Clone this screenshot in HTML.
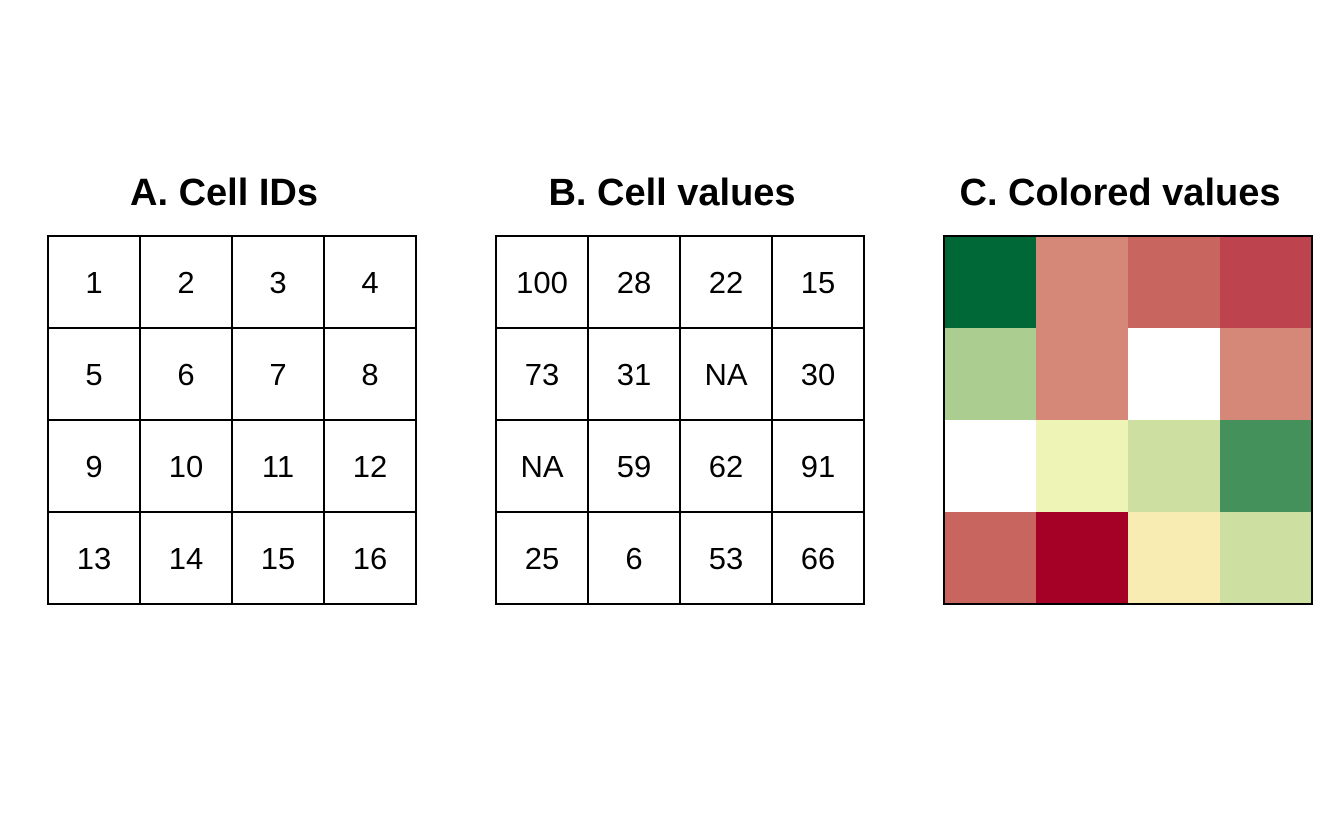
<!DOCTYPE html>
<html><head><meta charset="utf-8"><style>
html,body{margin:0;padding:0;background:#fff;}
svg{display:block;font-family:"Liberation Sans",sans-serif;}
</style></head><body>
<svg id="chart" width="1344" height="830"></svg>
<script>
const ids = [1,2,3,4,5,6,7,8,9,10,11,12,13,14,15,16];
const values = [100,28,22,15,73,31,null,30,null,59,62,91,25,6,53,66];
const titles = ["A. Cell IDs","B. Cell values","C. Colored values"];
const breaks = [12,20,27,45,57,61,70,80,95];
const palette = ["#a50026","#bd434f","#c8655f","#d68878","#f8ecb2","#eef4b6","#cde0a2","#abcd90","#44915c","#006837"];
function colorFor(v){ if(v==null) return "#ffffff"; let i=0; while(i<breaks.length && v>=breaks[i]) i++; return palette[i]; }
const svg=document.getElementById('chart'), NS="http://www.w3.org/2000/svg";
const lefts=[48,496,944], top0=236, cs=92;
function mk(t,a){const e=document.createElementNS(NS,t);for(const k in a)e.setAttribute(k,a[k]);svg.appendChild(e);return e;}
titles.forEach((t,p)=>{
  const tx=mk('text',{x:lefts[p]+176,y:205,'text-anchor':'middle','font-size':'38','font-weight':'bold',fill:'#000'});
  tx.textContent=t;
  
  
  for(let i=0;i<16;i++){
    const r=Math.floor(i/4), c=i%4, x=lefts[p]+c*cs, y=top0+r*cs;
    const fill = p===2 ? colorFor(values[i]) : '#fff';
    const rc=mk('rect',{x:x,y:y,width:cs,height:cs,fill:fill,stroke:p===2?'none':'#000','stroke-width':2});
    
    
    if(p<2){
      const lt=mk('text',{x:x+cs/2,y:y+cs/2+11,'text-anchor':'middle','font-size':'31',fill:'#000'});
      lt.textContent = p===0 ? ids[i] : (values[i]==null?'NA':values[i]);
      
      
    }
  }
  if(p===2){
    const b=mk('rect',{x:lefts[p],y:top0,width:cs*4,height:cs*4,fill:'none',stroke:'#000','stroke-width':2});
    
    
  }
});
</script>
</body></html>
